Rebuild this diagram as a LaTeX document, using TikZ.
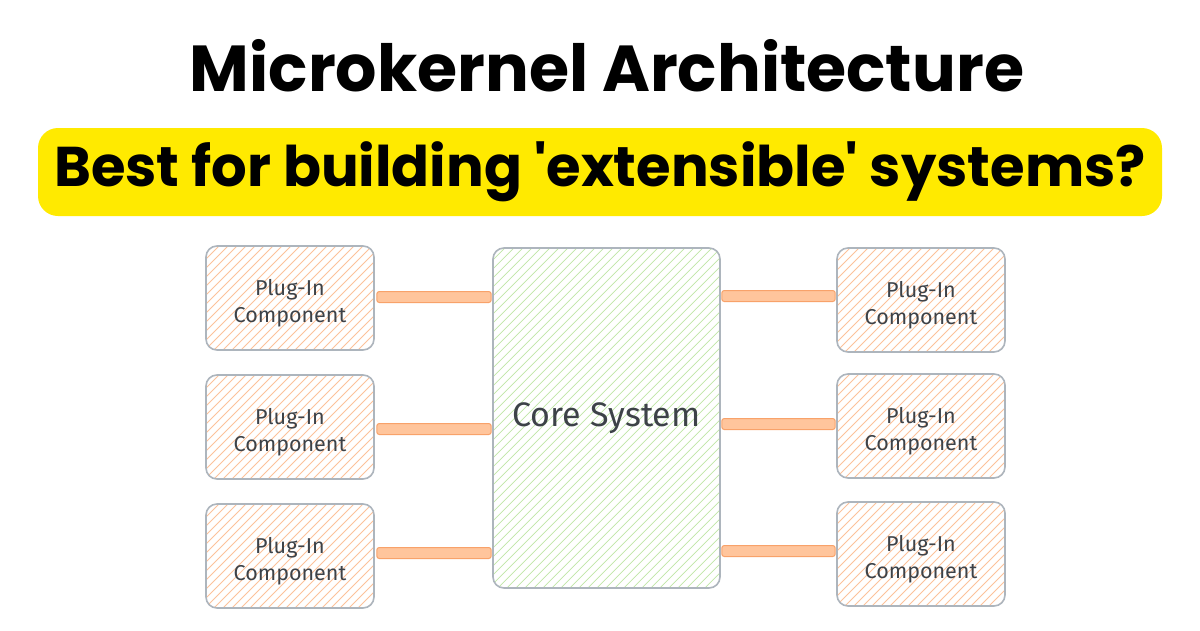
\documentclass[tikz,border=0pt]{standalone}
\usepackage{fontspec}
\setmainfont{Poppins}[Ligatures=TeXOff]
\newfontfamily\labelfont{Fira Sans}
\usetikzlibrary{calc}
\definecolor{hlyellow}{HTML}{FFEA00}
\definecolor{boxgray}{HTML}{ADB5BD}
\definecolor{hatchorange}{HTML}{FCC29A}
\definecolor{hatchgreen}{HTML}{BFE6A6}
\definecolor{linkfill}{HTML}{FFC59C}
\definecolor{linkdraw}{HTML}{F8A26A}
\definecolor{labelgray}{HTML}{3D4248}
\tikzset{
  hatchwith/.style={path picture={
    \begin{scope}[shift={(path picture bounding box.center)}]
      \foreach \i in {-420,-411,...,420}
        \draw[#1, line width=0.8pt] (\i-220,220) -- (\i+220,-220);
    \end{scope}}},
  plugtext/.style={font=\labelfont\fontsize{21.5}{27}\selectfont, text=labelgray,
    align=center, yshift=-5pt},
  plugin/.style={draw=boxgray, line width=1.6pt, rounded corners=11pt,
    minimum width=168pt, minimum height=104pt, hatchwith=hatchorange,
    label={[plugtext]center:{Plug-In\\Component}}},
  corebox/.style={draw=boxgray, line width=1.6pt, rounded corners=11pt,
    minimum width=227pt, minimum height=340pt, hatchwith=hatchgreen,
    font=\labelfont\fontsize{34}{40}\selectfont, text=labelgray},
  link/.style={draw=linkdraw, fill=linkfill, line width=1pt, rounded corners=2.5pt}
}
\begin{document}
\begin{tikzpicture}[x=1pt,y=-1pt]
\useasboundingbox[fill=white] (0,0) rectangle (1200,630);
\node[font=\fontsize{65}{72}\selectfont\bfseries] (title) at (607,66) {Microkernel Architecture};
\node[fill=hlyellow, rounded corners=20pt, minimum width=1124pt, minimum height=88pt,
  font=\fontsize{56}{64}\selectfont\bfseries, inner sep=0pt] (sub) at (600,172)
  {Best for building 'extensible' systems?};
\node[corebox] (core) at (606.5,418) {Core System};
\node[plugin] (l1) at (290,298) {};
\node[plugin] (l2) at (290,427) {};
\node[plugin] (l3) at (290,556) {};
\node[plugin] (r1) at (921,300) {};
\node[plugin] (r2) at (921,426) {};
\node[plugin] (r3) at (921,554) {};
\foreach \a/\y in {l1/297, l2/429, l3/553}
  \path[link] ($(\a.east |- 0,\y)+(2,-5.5)$) rectangle ($(core.west |- 0,\y)+(-1,5.5)$);
\foreach \a/\y in {r1/296, r2/424, r3/551}
  \path[link] ($(core.east |- 0,\y)+(1,-5.5)$) rectangle ($(\a.west |- 0,\y)+(-1,5.5)$);
\end{tikzpicture}
\end{document}
